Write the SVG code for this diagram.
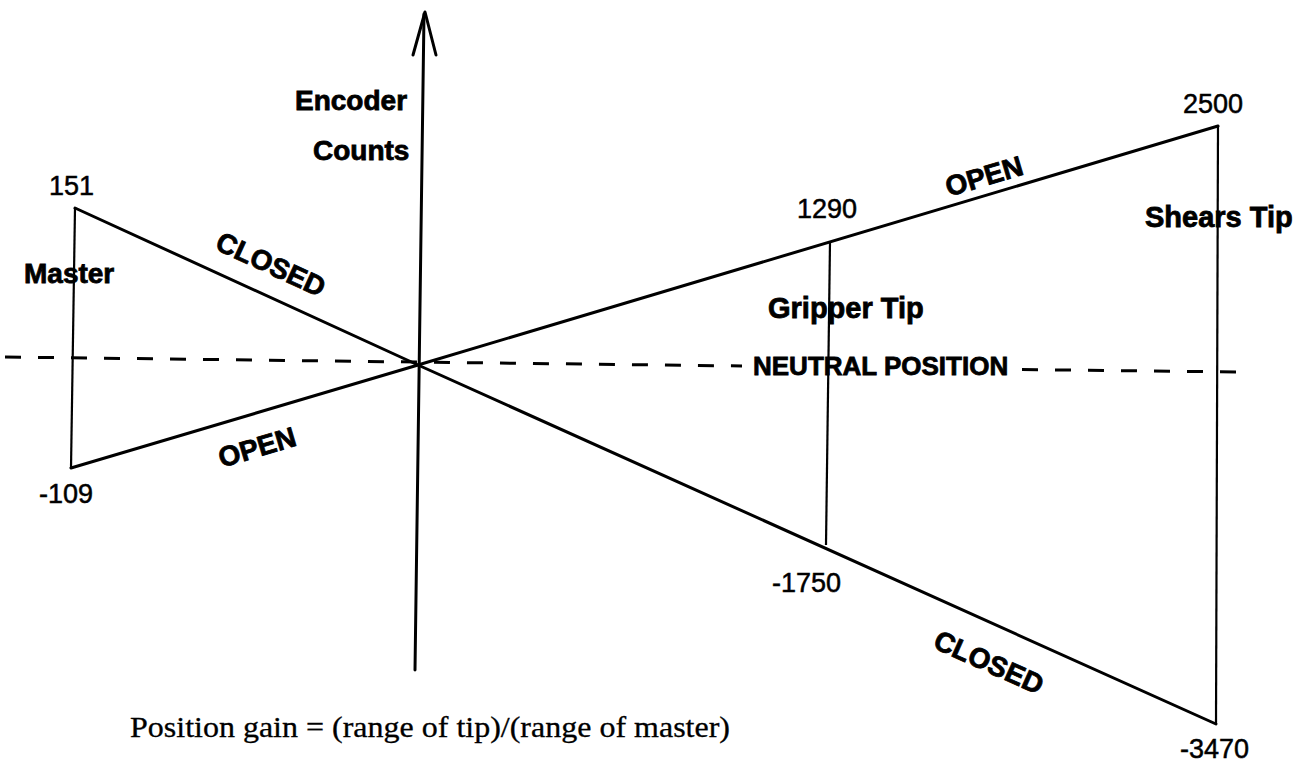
<svg xmlns="http://www.w3.org/2000/svg" width="1311" height="765" viewBox="0 0 1311 765">
<style>
.bg{fill:#fff}
.ln{stroke:#000;fill:none;stroke-width:3;stroke-linecap:round;stroke-linejoin:round}
.thin{stroke:#000;fill:none;stroke-width:2.2}
.dash{stroke:#000;fill:none;stroke-width:3;stroke-dasharray:16 17}
.lbl{font-family:"Liberation Sans",Arial,sans-serif;font-weight:bold;font-size:28px;fill:#000;stroke:#000;stroke-width:0.8}
.num{font-family:"Liberation Sans",Arial,sans-serif;font-size:27px;fill:#000;stroke:#000;stroke-width:0.5}
.serif{font-family:"Liberation Serif","Times New Roman",serif;font-size:29px;fill:#000;stroke:#000;stroke-width:0.3}
</style>
<rect class="bg" x="0" y="0" width="1311" height="765"/>
<g id="connectors">
  <line class="dash" x1="5" y1="357" x2="742" y2="366"/>
  <line class="dash" x1="1022" y1="369.5" x2="1240" y2="372"/>
  <polyline class="ln" points="75,208 418,365 1216,724"/>
  <polyline class="ln" points="71,468 418,365 1218,126"/>
</g>
<g id="axis">
  <line class="ln" x1="415" y1="670" x2="424" y2="14"/>
  <polyline class="ln" points="413,55 425,12 436,55"/>
  <text class="lbl" x="295" y="110">Encoder</text>
  <text class="lbl" x="313" y="160">Counts</text>
</g>
<g id="master">
  <line class="thin" x1="75" y1="208" x2="71" y2="468"/>
  <text class="num" x="49" y="195">151</text>
  <text class="lbl" x="24" y="283">Master</text>
  <text class="num" x="39" y="503">-109</text>
</g>
<g id="gripper">
  <line class="thin" x1="830" y1="242" x2="826" y2="545"/>
  <text class="num" x="797" y="218">1290</text>
  <text class="lbl" x="768" y="318" style="font-size:29px">Gripper Tip</text>
  <text class="num" x="772" y="592">-1750</text>
</g>
<g id="shears">
  <line class="thin" x1="1218" y1="126" x2="1216" y2="724"/>
  <text class="num" x="1183" y="113">2500</text>
  <text class="lbl" x="1145" y="227" style="font-size:29px">Shears Tip</text>
  <text class="num" x="1180" y="758">-3470</text>
</g>
<g id="neutral">
  <text class="lbl" x="753" y="375" style="font-size:26px">NEUTRAL POSITION</text>
</g>
<g id="state-labels">
  <text class="lbl" text-anchor="middle" transform="translate(271,264) rotate(24.6)" y="10">CLOSED</text>
  <text class="lbl" text-anchor="middle" transform="translate(257,447) rotate(-16.5)" y="10">OPEN</text>
  <text class="lbl" text-anchor="middle" transform="translate(984,176) rotate(-16.5)" y="10">OPEN</text>
  <text class="lbl" text-anchor="middle" transform="translate(989,662) rotate(24.1)" y="10">CLOSED</text>
</g>
<g id="formula">
  <text class="serif" x="130" y="737" textLength="600" lengthAdjust="spacingAndGlyphs">Position gain = (range of tip)/(range of master)</text>
</g>
</svg>
